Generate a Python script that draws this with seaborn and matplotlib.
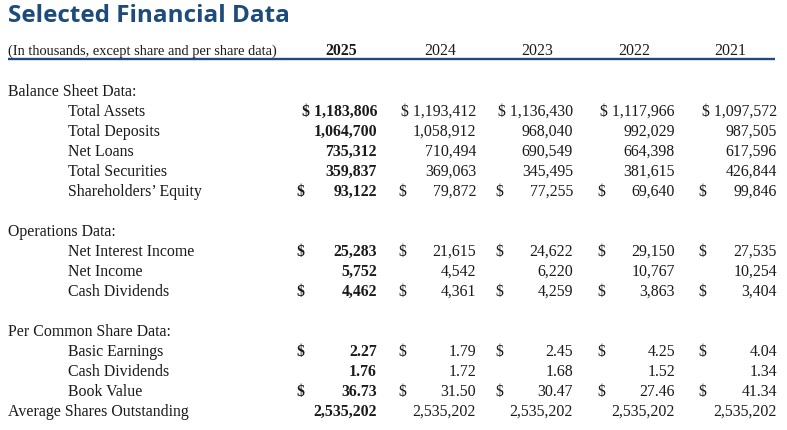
import matplotlib.pyplot as plt
import seaborn as sns

# --- data -------------------------------------------------------------
years = ["2025", "2024", "2023", "2022", "2021"]

total_assets = [1183806, 1193412, 1136430, 1117966, 1097572]
total_deposits = [1064700, 1058912, 968040, 992029, 987505]
net_loans = [735312, 710494, 690549, 664398, 617596]
total_securities = [359837, 369063, 345495, 381615, 426844]
shareholders_equity = [93122, 79872, 77255, 69640, 99846]

net_interest_income = [25283, 21615, 24622, 29150, 27535]
net_income = [5752, 4542, 6220, 10767, 10254]
cash_dividends = [4462, 4361, 4259, 3863, 3404]

basic_earnings = [2.27, 1.79, 2.45, 4.25, 4.04]
cash_dividends_ps = [1.76, 1.72, 1.68, 1.52, 1.34]
book_value = [36.73, 31.50, 30.47, 27.46, 41.34]
avg_shares = [2535202, 2535202, 2535202, 2535202, 2535202]

# label, values, number format, dollar sign style, indent
rows = [
    ("Balance Sheet Data:", None, None, None, 0),
    ("Total Assets", total_assets, "int", "inline", 1),
    ("Total Deposits", total_deposits, "int", None, 1),
    ("Net Loans", net_loans, "int", None, 1),
    ("Total Securities", total_securities, "int", None, 1),
    ("Shareholders\u2019 Equity", shareholders_equity, "int", "sep", 1),
    (None, None, None, None, 0),
    ("Operations Data:", None, None, None, 0),
    ("Net Interest Income", net_interest_income, "int", "sep", 1),
    ("Net Income", net_income, "int", None, 1),
    ("Cash Dividends", cash_dividends, "int", "sep", 1),
    (None, None, None, None, 0),
    ("Per Common Share Data:", None, None, None, 0),
    ("Basic Earnings", basic_earnings, "dec", "sep", 1),
    ("Cash Dividends", cash_dividends_ps, "dec", None, 1),
    ("Book Value", book_value, "dec", "sep", 1),
    ("Average Shares Outstanding", avg_shares, "int", None, 0),
]

# --- style ------------------------------------------------------------
sns.set_theme(style="white")
plt.rcParams["font.family"] = ["Liberation Serif", "DejaVu Serif"]
navy = "#1d4b7c"
ink = "#1a1a1a"

fig = plt.figure(figsize=(7.87, 4.30), dpi=100)
ax = fig.add_axes([0, 0, 1, 1])
ax.set_xlim(0, 787)
ax.set_ylim(430, 0)
ax.axis("off")

fs = 11.4
year_centers = [341, 440, 537, 634, 730]
num_right = [377, 476, 573, 675, 777]
dollar_left = [296, 398, 495, 597, 698]

ax.text(8, 22, "Selected Financial Data", family="Open Sans", fontweight="bold",
        fontsize=17.5, color=navy, va="baseline")
ax.text(8, 55, "(In thousands, except share and per share data)", fontsize=10.4,
        color=ink, va="baseline")
for i, yr in enumerate(years):
    ax.text(year_centers[i], 55, yr, fontsize=fs, ha="center", va="baseline",
            color=ink, fontweight="bold" if i == 0 else "normal")
ax.plot([8, 775], [59, 59], color=navy, lw=1.7, solid_capstyle="butt")

y = 96
for label, vals, kind, dollar, indent in rows:
    if label is None:
        y += 20
        continue
    ax.text(68 if indent else 8, y, label, fontsize=fs, color=ink, va="baseline")
    if vals is not None:
        for i, v in enumerate(vals):
            s = f"{v:,.2f}" if kind == "dec" else f"{v:,}"
            w = "bold" if i == 0 else "normal"
            if dollar == "inline":
                s = "$ " + s
            elif dollar == "sep":
                ax.text(dollar_left[i], y, "$", fontsize=fs, color=ink,
                        va="baseline", fontweight=w)
            ax.text(num_right[i], y, s, fontsize=fs, color=ink, ha="right",
                    va="baseline", fontweight=w)
    y += 20

fig.savefig("out.png", dpi=100, facecolor="white")
